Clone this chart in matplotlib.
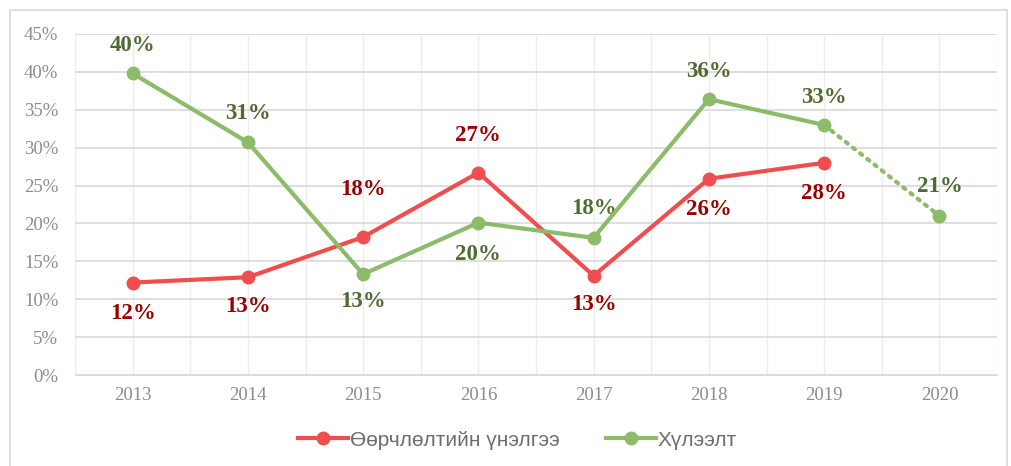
import matplotlib.pyplot as plt
from matplotlib.patches import Rectangle

years = ['2013', '2014', '2015', '2016', '2017', '2018', '2019', '2020']
unelgee = [12.2, 12.9, 18.2, 26.7, 13.1, 25.9, 28.0]
hulees = [39.8, 30.7, 13.3, 20.1, 18.1, 36.4, 33.0, 21.0]
unelgee_lbl = ['12%', '13%', '18%', '27%', '13%', '26%', '28%']
hulees_lbl = ['40%', '31%', '13%', '20%', '18%', '36%', '33%', '21%']

# label offsets in points (+ above, - below)
unelgee_off = [-22, -21, 34, 27, -21, -22, -22]
hulees_off = [20, 21, -20, -23, 21, 20, 20, 21]

red = '#F04E4E'
green = '#8CBB69'

fig = plt.figure(figsize=(10.11, 4.66), dpi=100)
fig.patches.append(Rectangle((10/1011, -0.05), 997/1011, 1 - 10/466 + 0.05,
                             transform=fig.transFigure, fill=False,
                             edgecolor='#D9D9D9', linewidth=1.2))
ax = fig.add_axes([75/1011, 1 - 375/466, 922/1011, 341/466])

x = list(range(len(years)))
ax.plot(x[6:8], hulees[6:8], color=green, lw=3, ls=(0, (0.6, 1.6)),
        dash_capstyle='round', zorder=3)
ax.plot(x[7], hulees[7], 'o', color=green, ms=9, zorder=4)
ax.plot(x[:7], unelgee, '-o', color=red, lw=3, ms=9, zorder=4,
        label='Өөрчлөлтийн үнэлгээ')
ax.plot(x[:7], hulees[:7], '-o', color=green, lw=3, ms=9, zorder=4,
        label='Хүлээлт')

for i, v in enumerate(unelgee):
    ax.annotate(unelgee_lbl[i], (i, v), xytext=(0, unelgee_off[i]),
                textcoords='offset points', ha='center', va='center',
                fontsize=16.5, fontweight='bold', family='Liberation Serif',
                color='#990000')
for i, v in enumerate(hulees):
    ax.annotate(hulees_lbl[i], (i, v), xytext=(0, hulees_off[i]),
                textcoords='offset points', ha='center', va='center',
                fontsize=16.5, fontweight='bold', family='Liberation Serif',
                color='#4F6B2F')

ax.set_xlim(-0.5, 7.5)
ax.set_ylim(0, 45)
ax.set_yticks(range(0, 46, 5))
ax.set_yticklabels([f'{t}%' for t in range(0, 46, 5)])
ax.set_xticks(x)
ax.set_xticklabels(years)
ax.set_xticks([i + 0.5 for i in range(-1, 8)], minor=True)
ax.grid(axis='y', color='#D9D9D9', lw=1.2)
ax.grid(axis='x', which='both', color='#EDEDED', lw=1)
ax.set_axisbelow(True)
for s in ax.spines.values():
    s.set_visible(False)
ax.spines['bottom'].set_visible(True)
ax.spines['bottom'].set_color('#D9D9D9')
ax.tick_params(which='both', length=0, labelcolor='#8C8C8C', labelsize=13.5)
ax.tick_params(axis='y', pad=12)
ax.tick_params(axis='x', pad=9)
for t in ax.get_xticklabels() + ax.get_yticklabels():
    t.set_family('Liberation Serif')

fig.legend(loc='center', bbox_to_anchor=(0.512, 1 - 440/466), ncol=2,
           frameon=False, prop={'family': 'Liberation Sans', 'size': 15},
           labelcolor='#6E6E6E', handlelength=2.4, columnspacing=2.2,
           handletextpad=0.1)

fig.savefig('out.png', dpi=100)
